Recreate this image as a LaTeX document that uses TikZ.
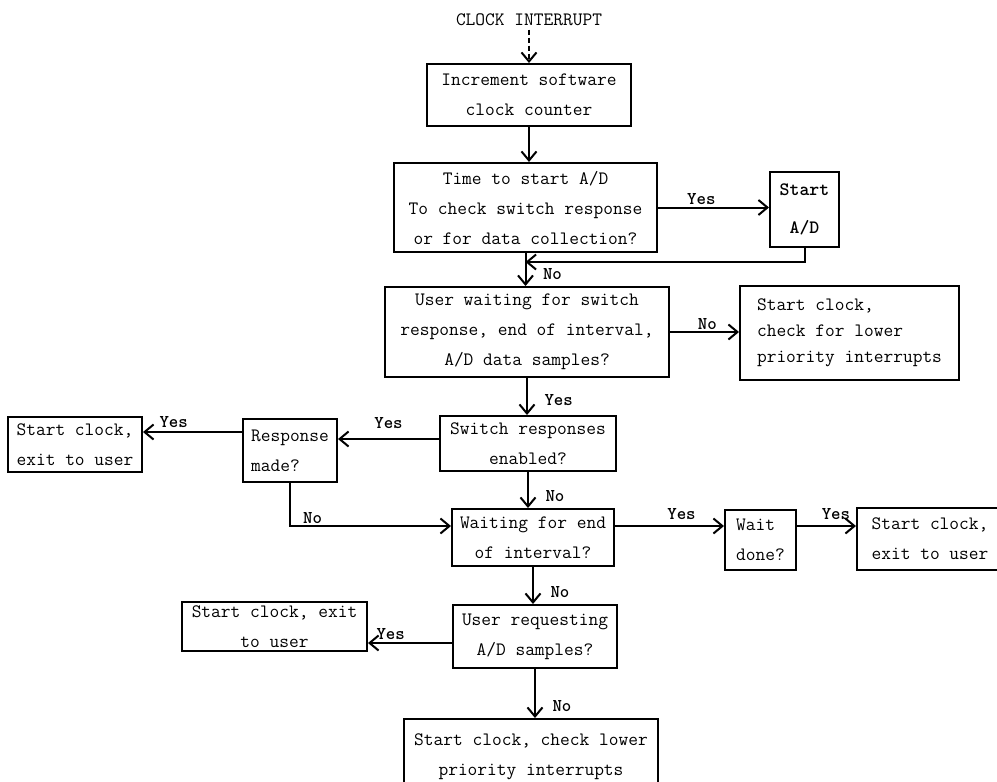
\documentclass[tikz,border=0pt]{standalone}
\usetikzlibrary{arrows.meta,positioning}
\begin{document}
\begin{tikzpicture}[x=1pt,y=-1pt,
  font=\ttfamily\fontsize{18.9}{30}\selectfont,
  box/.style={draw,line width=2pt,inner sep=0pt,align=center},
  flow/.style={line width=2pt,-{Straight Barb[length=9pt,width=15pt]}},
  lbl/.style={font=\ttfamily\bfseries\fontsize{18}{20}\selectfont,inner sep=1.5pt}]
\useasboundingbox (0,0) rectangle (997,782);
% Interruption d'horloge
\node (clk) at (529,20) {CLOCK INTERRUPT};
\node[box,minimum width=204pt,minimum height=62pt] (inc) at (529,95) {Increment software\\clock counter};
\node[box,minimum width=263pt,minimum height=89pt] (time) at (525.5,207.5) {Time to start A/D\\To check switch response\\or for data collection?};
\node[box,minimum width=69pt,minimum height=75pt,font=\ttfamily\bfseries\fontsize{18.9}{30}\selectfont] (startad) at (804.5,209.5) {Start\\[8pt]A/D};
\node[box,minimum width=284pt,minimum height=90pt] (userwait) at (527,332) {User waiting for switch\\response, end of interval,\\A/D data samples?};
\node[box,minimum width=219pt,minimum height=94pt,align=left,font=\ttfamily\fontsize{18.9}{26}\selectfont] (lower1) at (849.5,333) {Start clock,\\check for lower\\priority interrupts};
\node[box,minimum width=176pt,minimum height=55pt] (sw) at (528,443.5) {Switch responses\\enabled?};
\node[box,minimum width=94pt,minimum height=63pt,align=left] (resp) at (290,450.5) {Response\\made?};
\node[box,minimum width=134pt,minimum height=55pt] (exit1) at (75,444.5) {Start clock,\\exit to user};
\node[box,minimum width=162pt,minimum height=57pt] (wfe) at (533,537.5) {Waiting for end\\of interval?};
\node[box,minimum width=71pt,minimum height=60pt,align=left] (wd) at (760.5,540) {Wait\\done?};
\node[box,minimum width=146pt,minimum height=62pt] (exit2) at (930,539) {Start clock,\\exit to user};
\node[box,minimum width=164pt,minimum height=63pt] (req) at (535,636.5) {User requesting\\A/D samples?};
\node[box,minimum width=185pt,minimum height=49pt] (exit3) at (274.5,626.5) {Start clock, exit\\to user};
\node[box,minimum width=254pt,minimum height=76pt] (lower2) at (531,757) {Start clock, check lower\\priority interrupts};
% Liaisons
\draw[flow,dash pattern=on 5pt off 3pt] (clk.south) -- (clk.south |- inc.north);
\draw[flow] (inc.south) -- (inc.south |- time.north);
\draw[flow] (time.east) -- (time.east -| startad.west) node[lbl,pos=0.39,above] {Yes};
\coordinate (join) at (time.south |- 0,262);
\draw[flow] (startad.south) |- (join);
\draw[flow] (time.south) -- (time.south |- userwait.north) node[lbl,pos=0.64,right=15pt] {No};
\draw[flow] (userwait.east) -- (userwait.east -| lower1.west) node[lbl,pos=0.54,above] {No};
\draw[flow] (userwait.south) -- (userwait.south |- sw.north) node[lbl,pos=0.59,right=15pt] {Yes};
\coordinate (sy) at ([yshift=4.5pt]sw.west);
\draw[flow] (sy) -- (sy -| resp.east) node[lbl,midway,above=8pt] {Yes};
\coordinate (ry) at ([yshift=-14pt]resp.north west);
\draw[flow] (ry) -- (ry -| exit1.east) node[lbl,pos=0.69,above=2pt] {Yes};
\draw[flow] (sw.south) -- (sw.south |- wfe.north) node[lbl,pos=0.66,right=15pt] {No};
\coordinate (wy) at ([yshift=11.5pt]wfe.east);
\draw[flow] (resp.south) |- (wy -| wfe.west) node[lbl,pos=0.57,above] {No};
\draw[flow] (wy) -- (wy -| wd.west) node[lbl,pos=0.61,above=4pt] {Yes};
\draw[flow] (wy -| wd.east) -- (wy -| exit2.west) node[lbl,pos=0.66,above=4pt] {Yes};
\draw[flow] (wfe.south) -- (wfe.south |- req.north) node[lbl,pos=0.69,right=15pt] {No};
\coordinate (qy) at ([yshift=-6.5pt]req.west);
\draw[flow] (qy) -- (qy -| exit3.east) node[lbl,pos=0.73,above=1pt] {Yes};
\draw[flow] (req.south) -- (req.south |- lower2.north) node[lbl,pos=0.76,right=15pt] {No};
\end{tikzpicture}
\end{document}
